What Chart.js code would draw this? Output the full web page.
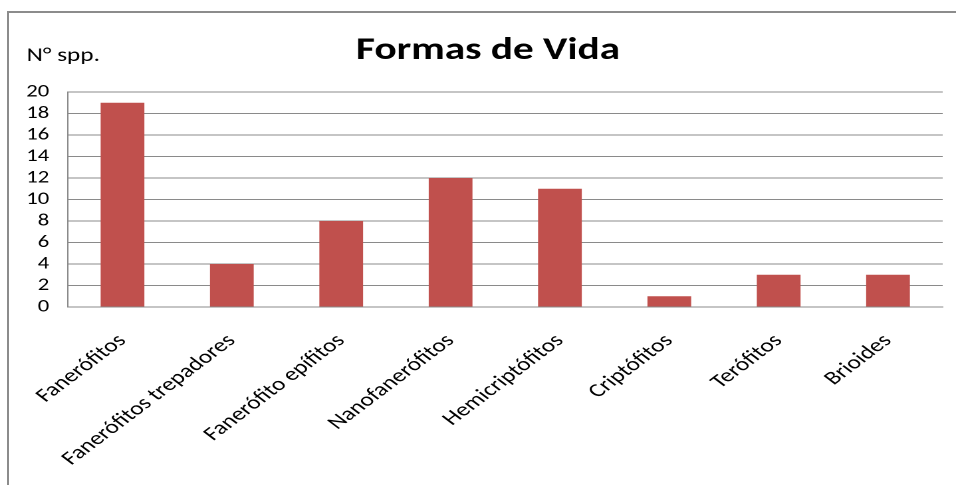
<!DOCTYPE html>
<html>
<head>
<meta charset="utf-8">
<script src="https://cdn.jsdelivr.net/npm/chart.js@4/dist/chart.umd.min.js"></script>
<style>
  html, body { margin: 0; padding: 0; background: #fff; overflow: hidden; }
  body { width: 956px; height: 485px; position: relative; }
  #frame {
    position: absolute; left: 7px; top: 11px; width: 980px; height: 500px;
    border-left: 2px solid #8c8c8c; border-top: 2px solid #8c8c8c;
  }
  /* the reference image is stretched horizontally, so the chart is too */
  #wrap {
    position: absolute; left: 0; top: 0; width: 719px; height: 485px;
    transform: scaleX(1.3296); transform-origin: 0 0;
  }
</style>
</head>
<body>
<div id="frame"></div>
<div id="wrap"><canvas id="c"></canvas></div>
<script>
const categories = ['Fanerófitos', 'Fanerófitos trepadores', 'Fanerófito epífitos', 'Nanofanerófitos',
  'Hemicriptófitos', 'Criptófitos', 'Terófitos', 'Brioides'];
const species = [19, 4, 8, 12, 11, 1, 3, 3];
const yTicks = [0, 2, 4, 6, 8, 10, 12, 14, 16, 18, 20];

const FONT = 'Carlito, Calibri, Lato, sans-serif';
const GRID = '#8a8a8a';

const labelsPlugin = {
  id: 'labels',
  afterDraw(chart) {
    const ctx = chart.ctx;
    ctx.save();
    ctx.fillStyle = '#000';
    ctx.textBaseline = 'alphabetic';
    ctx.font = 'bold 31px ' + FONT;
    ctx.textAlign = 'center';
    ctx.fillText('Formas de Vida', 367, 59);
    ctx.font = '19px ' + FONT;
    ctx.textAlign = 'left';
    ctx.fillText('N° spp.', 20, 61);
    ctx.restore();
  }
};

new Chart(document.getElementById('c'), {
  type: 'bar',
  data: {
    labels: categories,
    datasets: [{
      data: species,
      backgroundColor: '#c0504d',
      barPercentage: 0.4,
      categoryPercentage: 1,
    }],
  },
  options: {
    responsive: true,
    maintainAspectRatio: false,
    devicePixelRatio: 2,
    animation: false,
    layout: { padding: { top: 92, right: 10, left: 0, bottom: 0 } },
    plugins: {
      legend: { display: false },
      tooltip: { enabled: false },
    },
    scales: {
      x: {
        grid: { display: false },
        border: { display: true, color: GRID, width: 1 },
        ticks: {
          color: '#000', font: { family: FONT, size: 19 },
          minRotation: 45, maxRotation: 45, padding: 15, autoSkip: false,
        },
        afterFit: s => { s.height = 178; },
      },
      y: {
        min: 0, max: 20,
        grid: { color: GRID, drawTicks: false },
        border: { display: true, color: GRID, width: 1 },
        afterBuildTicks: s => { s.ticks = yTicks.map(v => ({ value: v })); },
        ticks: { color: '#000', font: { family: FONT, size: 17 }, padding: 14, autoSkip: false },
        afterFit: s => { s.width = 51; },
      },
    },
  },
  plugins: [labelsPlugin],
});
</script>
</body>
</html>
